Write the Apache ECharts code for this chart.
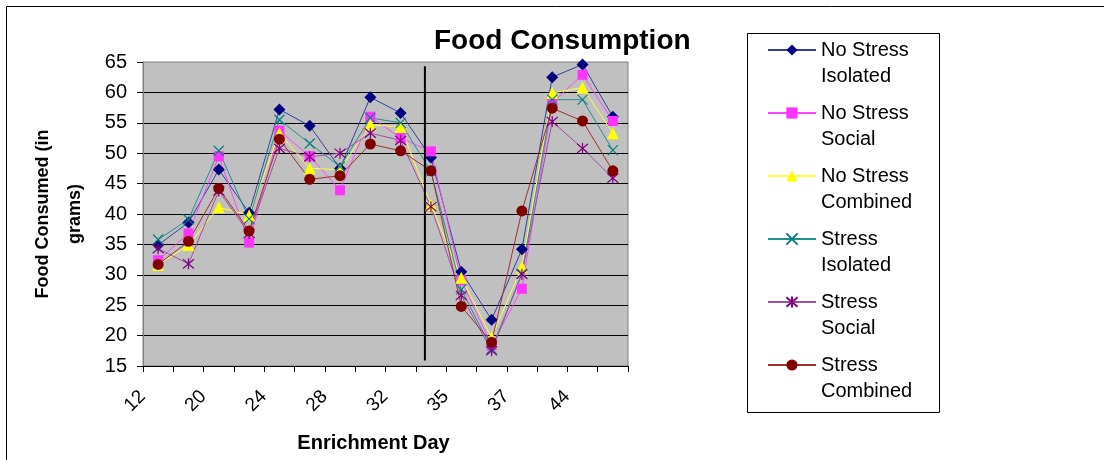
<!DOCTYPE html>
<html>
<head>
<meta charset="utf-8">
<script src="https://cdn.jsdelivr.net/npm/echarts@6/dist/echarts.min.js"></script>
<style>
html,body{margin:0;padding:0;background:#fff;}
#chart{width:1104px;height:460px;}
</style>
</head>
<body>
<div id="chart"></div>
<script>
const categories = ['12','16','20','22','24','26','28','30','32','34','35','36','37','42','44','46'];
const noStressIsolated = [34.9, 38.6, 47.3, 40.2, 57.2, 54.5, 47.5, 59.2, 56.6, 49.3, 30.5, 22.6, 34.2, 62.5, 64.6, 56.0];
const noStressSocial   = [32.4, 36.8, 49.5, 35.3, 53.7, 49.5, 43.9, 56.0, 52.5, 50.3, 29.1, 18.4, 27.7, 58.3, 62.9, 55.3];
const noStressCombined = [31.6, 34.9, 41.1, 39.8, 53.3, 47.5, 47.3, 54.7, 54.3, 41.5, 29.5, 19.7, 31.3, 59.9, 60.8, 53.3];
const stressIsolated   = [35.8, 39.1, 50.4, 39.2, 55.5, 51.6, 47.8, 55.8, 55.0, 47.0, 27.6, 17.8, 30.2, 58.8, 58.8, 50.5];
const stressSocial     = [34.3, 31.8, 43.8, 36.8, 50.8, 49.4, 50.0, 53.3, 52.1, 41.2, 26.6, 17.5, 30.1, 55.2, 50.8, 45.9];
const stressCombined   = [31.7, 35.5, 44.2, 37.2, 52.3, 45.7, 46.3, 51.5, 50.4, 47.1, 24.8, 18.9, 40.5, 57.4, 55.3, 47.1];
const seriesNames = ['No Stress Isolated','No Stress Social','No Stress Combined','Stress Isolated','Stress Social','Stress Combined'];
// vertical divider (position in category-slot units, value range)
const dividerPos = 9.3;
const dividerRange = [15.9, 64.3];

const FONT = 'Liberation Sans, Arial, sans-serif';
const xPath = 'path://M0,0L10,10M10,0L0,10';
const starPath = 'path://M0,0L10,10M10,0L0,10M5,-1L5,11';

const styles = [
  {color:'#000080', line:'#3040a0', symbol:'diamond', size:12},
  {color:'#FF33FF', line:'#FF44FF', symbol:'rect', size:10},
  {color:'#FFFF00', line:'#FFFF40', symbol:'triangle', size:12},
  {color:'#008080', line:'#209090', symbol:xPath, size:10, stroke:true},
  {color:'#800080', line:'#a050a0', symbol:starPath, size:11, stroke:true},
  {color:'#800000', line:'#a03030', symbol:'circle', size:11}
];
const dataSets = [noStressIsolated, noStressSocial, noStressCombined, stressIsolated, stressSocial, stressCombined];

const series = dataSets.map((d, i) => {
  const s = styles[i];
  return {
    name: seriesNames[i],
    type: 'line',
    data: d,
    symbol: s.symbol,
    symbolSize: s.size,
    showAllSymbol: true,
    lineStyle: {color: s.line, width: 1},
    itemStyle: s.stroke ? {color: 'rgba(0,0,0,0)', borderColor: s.color, borderWidth: 1.2}
                        : {color: s.color, borderColor: s.color, borderWidth: 0},
    emphasis: {disabled: true},
    animation: false
  };
});
series.push({
  name: 'divider',
  type: 'line',
  xAxisIndex: 1,
  data: [[dividerPos, dividerRange[0]], [dividerPos, dividerRange[1]]],
  symbol: 'none',
  lineStyle: {color: '#000', width: 2},
  silent: true,
  animation: false
});

const chart = echarts.init(document.getElementById('chart'));
chart.setOption({
  backgroundColor: '#fff',
  animation: false,
  textStyle: {fontFamily: FONT},
  title: {
    text: 'Food Consumption',
    left: 429, top: 22,
    textStyle: {fontFamily: FONT, fontSize: 28, fontWeight: 'bold', color: '#000'}
  },
  graphic: [
    {type: 'rect', shape: {x: 6.5, y: 6.5, width: 1120, height: 480}, style: {fill: 'none', stroke: '#000', lineWidth: 1}, silent: true, z: -1},
    {type: 'rect', shape: {x: 747.5, y: 33.5, width: 192, height: 379}, style: {fill: '#fff', stroke: '#000', lineWidth: 1}, silent: true, z: -1}
  ],
  legend: {
    data: seriesNames,
    orient: 'vertical',
    left: 767, top: 11,
    itemWidth: 48, itemHeight: 14,
    itemGap: -15,
    padding: 0,
    formatter: n => '\n' + n.replace(/^(No Stress|Stress) /, '$1\n'),
    textStyle: {fontFamily: FONT, fontSize: 20, color: '#000', lineHeight: 26},
    selectedMode: false
  },
  grid: {
    left: 143, right: 476, top: 62, bottom: 94,
    show: true, backgroundColor: '#C0C0C0', borderColor: '#808080', borderWidth: 1,
    containLabel: false
  },
  xAxis: [{
    type: 'category',
    data: categories,
    boundaryGap: true,
    axisLine: {lineStyle: {color: '#000', width: 1}},
    axisTick: {show: true, inside: false, length: 6, interval: 0, lineStyle: {color: '#000'}},
    axisLabel: {interval: 1, rotate: 45, fontFamily: FONT, fontSize: 19, color: '#000', margin: 12, padding: [0, 22, 0, 0]},
    name: 'Enrichment Day',
    nameLocation: 'middle',
    nameGap: 67,
    nameTextStyle: {fontFamily: FONT, fontSize: 20, fontWeight: 'bold', color: '#000', padding: [0, 24, 0, 0]},
    splitLine: {show: false}
  }, {
    type: 'value', min: 0, max: 16, show: false
  }],
  yAxis: {
    type: 'value',
    min: 15, max: 65, interval: 5,
    axisLine: {show: true, lineStyle: {color: '#808080'}},
    axisTick: {show: true, inside: false, length: 6, lineStyle: {color: '#000'}},
    axisLabel: {fontFamily: FONT, fontSize: 20, color: '#000', margin: 16},
    splitLine: {show: true, showMinLine: false, showMaxLine: false, lineStyle: {color: '#000', width: 1}},
    name: 'Food Consumed (in\ngrams)',
    nameLocation: 'middle',
    nameGap: 52,
    nameTextStyle: {fontFamily: FONT, fontSize: 18, fontWeight: 'bold', color: '#000', lineHeight: 32}
  },
  series: series
});
</script>
</body>
</html>
